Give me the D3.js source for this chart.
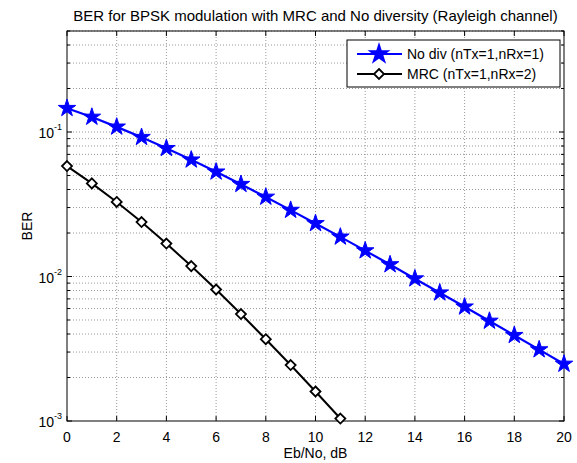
<!DOCTYPE html>
<html>
<head>
<meta charset="utf-8">
<script src="https://cdn.jsdelivr.net/npm/d3@7"></script>
<style>
  body { margin: 0; background: #fff; }
  text { font-family: Arial, "Liberation Sans", sans-serif; }
</style>
</head>
<body>
<div id="chart"></div>
<script>
// Eb/No in dB and BER
const ebno = [0, 1, 2, 3, 4, 5, 6, 7, 8, 9, 10, 11, 12, 13, 14, 15, 16, 17, 18, 19, 20];
const berNoDiv = [0.146, 0.127, 0.1085, 0.092, 0.0771, 0.0642, 0.053, 0.0435, 0.0355, 0.0288,
  0.0233, 0.0188, 0.0151, 0.0121, 0.00966, 0.00772, 0.00617, 0.00492, 0.00392, 0.00312, 0.00248];
const berMrc = [0.0581, 0.0441, 0.0328, 0.0238, 0.0169, 0.0118, 0.00813, 0.0055, 0.00368,
  0.00244, 0.0016, 0.00104];
const xTicks = [0, 2, 4, 6, 8, 10, 12, 14, 16, 18, 20];
const yDecades = [-3, -2, -1];
const seriesNames = ["No div (nTx=1,nRx=1)", "MRC (nTx=1,nRx=2)"];

const width = 577, height = 463;
const margin = { top: 31, right: 13, bottom: 42, left: 67 };
const w = width - margin.left - margin.right;
const h = height - margin.top - margin.bottom;

const svg = d3.select("#chart").append("svg")
  .attr("width", width)
  .attr("height", height);

const g = svg.append("g").attr("transform", `translate(${margin.left},${margin.top})`);

const x = d3.scaleLinear().domain([0, 20]).range([0, w]);
const y = d3.scaleLog().domain([1e-3, 0.5]).range([h, 0]);

// minor y values 1..9 per decade
const yGrid = [];
yDecades.forEach(e => {
  for (let k = 1; k <= 9; k++) {
    const v = k * Math.pow(10, e);
    if (v <= 0.5 + 1e-9) yGrid.push({ v: v, major: k === 1 });
  }
});

// grid lines (dotted)
g.selectAll(".gx").data(xTicks.slice(1, -1)).enter().append("line")
  .attr("x1", d => x(d)).attr("x2", d => x(d))
  .attr("y1", 0).attr("y2", h)
  .attr("stroke", "#555").attr("stroke-width", 0.6)
  .attr("stroke-dasharray", "1,2");

g.selectAll(".gy").data(yGrid.filter(d => d.v > 1e-3)).enter().append("line")
  .attr("x1", 0).attr("x2", w)
  .attr("y1", d => y(d.v)).attr("y2", d => y(d.v))
  .attr("stroke", "#555").attr("stroke-width", 0.6)
  .attr("stroke-dasharray", "1,2");

// axis box
g.append("rect").attr("width", w).attr("height", h)
  .attr("fill", "none").attr("stroke", "#000").attr("stroke-width", 1);

// ticks inside, on all four sides
xTicks.forEach(t => {
  g.append("line").attr("x1", x(t)).attr("x2", x(t)).attr("y1", h).attr("y2", h - 5).attr("stroke", "#000");
  g.append("line").attr("x1", x(t)).attr("x2", x(t)).attr("y1", 0).attr("y2", 5).attr("stroke", "#000");
});
yGrid.forEach(d => {
  const len = d.major ? 5 : 3;
  g.append("line").attr("x1", 0).attr("x2", len).attr("y1", y(d.v)).attr("y2", y(d.v)).attr("stroke", "#000");
  g.append("line").attr("x1", w).attr("x2", w - len).attr("y1", y(d.v)).attr("y2", y(d.v)).attr("stroke", "#000");
});

// tick labels
g.selectAll(".xl").data(xTicks).enter().append("text")
  .attr("x", d => x(d)).attr("y", h + 21)
  .attr("text-anchor", "middle")
  .style("font-size", "14px")
  .text(d => d);

yDecades.forEach(e => {
  const t = g.append("text")
    .attr("x", -5).attr("y", y(Math.pow(10, e)) + 6)
    .attr("text-anchor", "end")
    .style("font-size", "14px");
  t.append("tspan").text("10");
  t.append("tspan").attr("dy", -8).style("font-size", "9px").text(e);
});

// axis titles
svg.append("text")
  .attr("x", margin.left + w / 2).attr("y", height - 5)
  .attr("text-anchor", "middle").style("font-size", "14px")
  .text("Eb/No, dB");

svg.append("text")
  .attr("transform", `translate(32,${margin.top + h / 2}) rotate(-90)`)
  .attr("text-anchor", "middle").style("font-size", "14px")
  .text("BER");

svg.append("text")
  .attr("x", margin.left + w / 2).attr("y", 21)
  .attr("text-anchor", "middle").style("font-size", "15px")
  .text("BER for BPSK modulation with MRC and No diversity (Rayleigh channel)");

// lines
const line = d3.line().x(d => x(d[0])).y(d => y(d[1]));
const dataNoDiv = ebno.map((e, i) => [e, berNoDiv[i]]);
const dataMrc = ebno.slice(0, berMrc.length).map((e, i) => [e, berMrc[i]]);

g.append("path").datum(dataNoDiv).attr("d", line)
  .attr("fill", "none").attr("stroke", "#0000ff").attr("stroke-width", 2.2);
g.append("path").datum(dataMrc).attr("d", line)
  .attr("fill", "none").attr("stroke", "#000").attr("stroke-width", 2);

const star = d3.symbol().type(d3.symbolStar).size(95);
const diamond = "M0,-5L5,0L0,5L-5,0Z";

g.selectAll(".star").data(dataNoDiv).enter().append("path")
  .attr("transform", d => `translate(${x(d[0])},${y(d[1])})`)
  .attr("d", star)
  .attr("fill", "#0000ff").attr("stroke", "#0000ff").attr("stroke-width", 1);

g.selectAll(".dia").data(dataMrc).enter().append("path")
  .attr("transform", d => `translate(${x(d[0])},${y(d[1])})`)
  .attr("d", diamond)
  .attr("fill", "#fff").attr("stroke", "#000").attr("stroke-width", 1.8);

// legend
const leg = svg.append("g").attr("transform", "translate(347,40)");
leg.append("rect").attr("width", 213).attr("height", 47)
  .attr("fill", "#fff").attr("stroke", "#000").attr("stroke-width", 1);
const rows = [
  { name: seriesNames[0], color: "#0000ff", sw: 2.2, mark: star, fill: "#0000ff" },
  { name: seriesNames[1], color: "#000", sw: 2, mark: diamond, fill: "#fff" }
];
rows.forEach((r, i) => {
  const yy = 14 + i * 20;
  leg.append("line").attr("x1", 10).attr("x2", 55).attr("y1", yy).attr("y2", yy)
    .attr("stroke", r.color).attr("stroke-width", r.sw);
  leg.append("path").attr("transform", `translate(32,${yy})`)
    .attr("d", r.mark).attr("fill", r.fill).attr("stroke", r.color).attr("stroke-width", 1.8);
  leg.append("text").attr("x", 60).attr("y", yy + 5)
    .style("font-size", "14px").text(r.name);
});
</script>
</body>
</html>
